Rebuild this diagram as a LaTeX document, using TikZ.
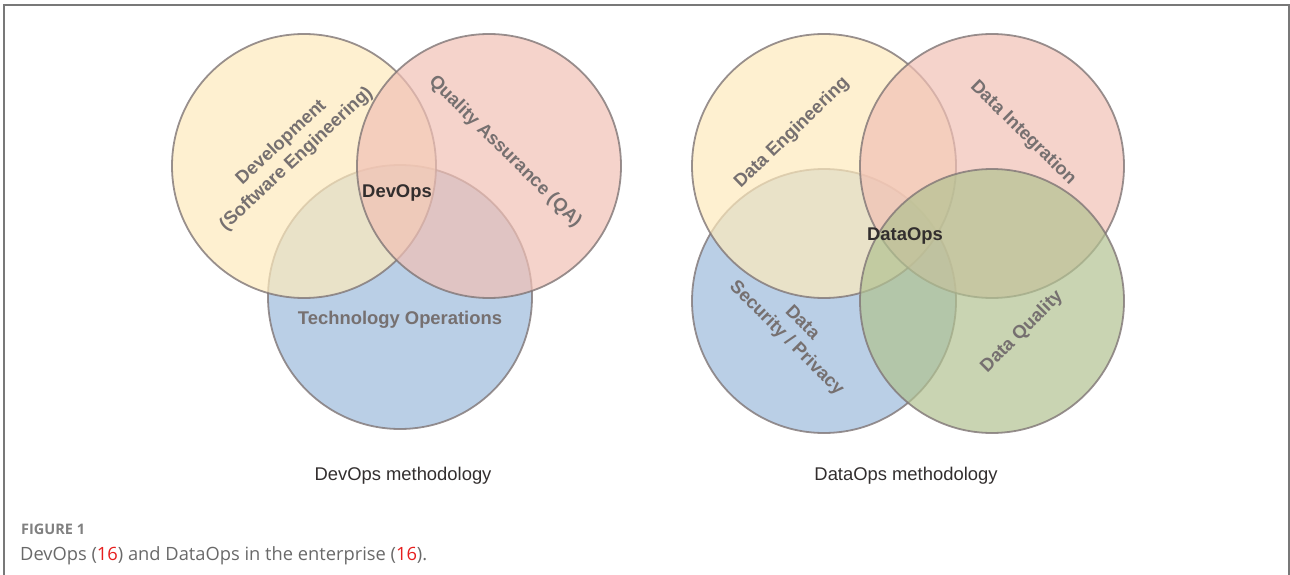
\documentclass[tikz,border=0pt]{standalone}
\usepackage{fontspec}
\setmainfont{Liberation Sans}
\newfontfamily\capfont{Open Sans}
\definecolor{cyel}{RGB}{254,234,188}
\definecolor{cpink}{RGB}{241,192,181}
\definecolor{cblue}{RGB}{156,186,219}
\definecolor{cgreen}{RGB}{178,194,145}
\definecolor{cedge}{RGB}{128,118,118}
\definecolor{clabel}{RGB}{118,112,112}
\definecolor{cdark}{RGB}{50,46,46}
\definecolor{cframe}{RGB}{120,120,120}
\definecolor{ccap}{RGB}{105,105,105}
\definecolor{cred}{RGB}{230,30,30}
\begin{document}
\begin{tikzpicture}[x=1pt,y=-1pt,
  venn/.style={circle, minimum size=264pt, inner sep=0pt, draw=cedge, line width=1.8pt, fill opacity=0.7, draw opacity=0.8},
  lbl/.style={font=\bfseries\fontsize{18.4}{22}\selectfont, text=clabel, align=center, inner sep=0pt},
  core/.style={font=\bfseries\fontsize{18.4}{22}\selectfont, text=cdark, inner sep=0pt},
  meth/.style={font=\fontsize{18.4}{22}\selectfont, text=cdark, inner sep=0pt}]
\useasboundingbox (0,0) rectangle (1290,575);
% frame
\coordinate (fbl) at (4,575);
\coordinate (ftl) at (4,5);
\coordinate (ftr) at (1289,5);
\coordinate (fbr) at (1289,575);
\draw[cframe, line width=1.5pt] (fbl) -- (ftl) -- (ftr) -- (fbr);
% DevOps
\node[venn, fill=cblue] (tech) at (400,297) {};
\node[venn, fill=cyel] (dev) at (304,166) {};
\node[venn, fill=cpink] (qa) at (489,166) {};
\node[lbl, rotate=43] (devl) at (289,151) {Development\\(Software Engineering)};
\node[lbl, rotate=-44.7] (qal) at (505,152) {Quality Assurance (QA)};
\node[lbl] (techl) at (400,320) {Technology Operations};
\node[core] (devops) at (397,193) {DevOps};
\node[meth] (devm) at (403,476) {DevOps methodology};
% DataOps
\node[venn, fill=cblue] (sec) at (824,301) {};
\node[venn, fill=cyel] (eng) at (824,166) {};
\node[venn, fill=cpink] (integ) at (992,166) {};
\node[venn, fill=cgreen] (qual) at (992,301) {};
\node[lbl, rotate=44] (engl) at (792,133) {Data Engineering};
\node[lbl, rotate=-44.5] (integl) at (1023,133) {Data Integration};
\node[lbl, rotate=-45] (secl) at (794,331) {Data\\Security / Privacy};
\node[lbl, rotate=45] (quall) at (1022,332) {Data Quality};
\node[core] (dataops) at (905,236) {DataOps};
\node[meth] (datam) at (906,476) {DataOps methodology};
% caption
\node[anchor=west, inner sep=0pt, font=\capfont\bfseries\fontsize{14.5}{16}\selectfont, text=ccap!85] (fig) at (21,529) {FIGURE 1};
\node[anchor=west, inner sep=0pt, font=\capfont\fontsize{18.3}{22}\selectfont, text=ccap] (cap) at (20,556) {DevOps (\textcolor{cred}{16}) and DataOps in the enterprise (\textcolor{cred}{16}).};
\end{tikzpicture}
\end{document}
